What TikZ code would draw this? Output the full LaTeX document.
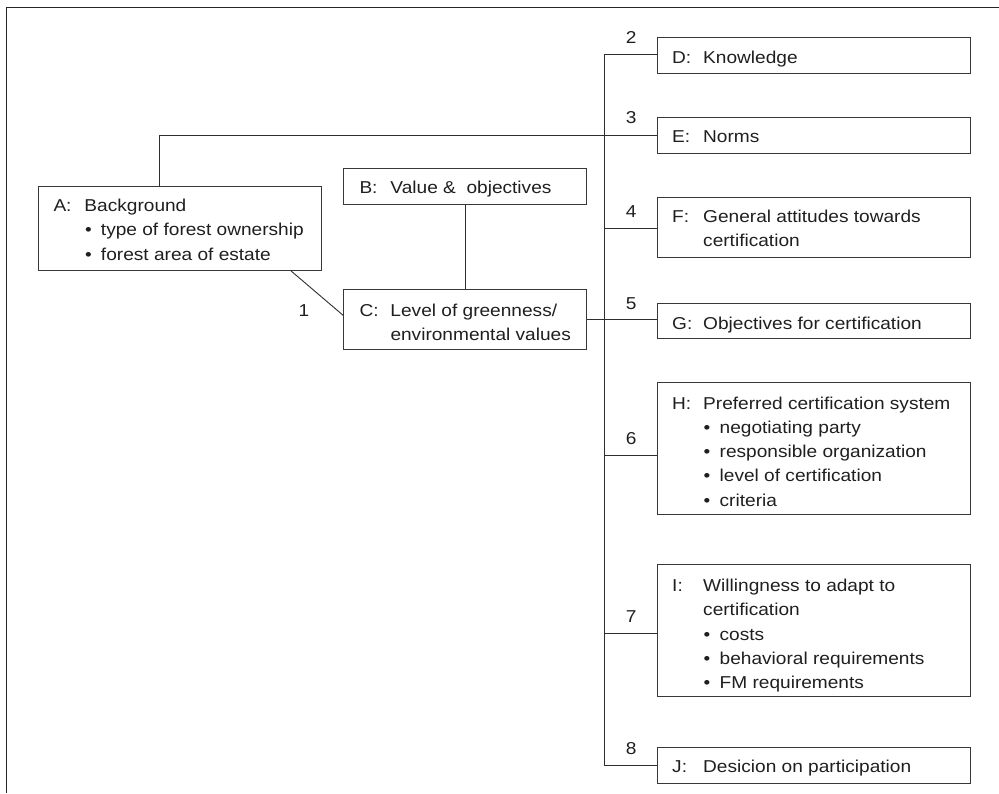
\documentclass[tikz,border=0pt]{standalone}
\usepackage{fontspec}
\setmainfont{Liberation Sans}[FakeStretch=1.11]

% one labelled line: key letter, then its text
\newcommand\keyline[2]{\makebox[31pt][l]{#1}#2}
% bulleted sub-item under the text column
\newcommand\bulline[1]{\hspace*{31pt}\makebox[16.5pt][l]{\hspace{0.5pt}\textbullet}#1}
% wrapped continuation of the text column
\newcommand\contline[1]{\hspace*{31pt}#1}

\begin{document}
\begin{tikzpicture}[x=1pt,y=-1pt,
  box/.style={draw=black!78, line width=0.9pt, inner sep=0pt, anchor=north west},
  txt/.style={anchor=base west, inner sep=0pt, text=black!88,
              font=\fontsize{17.2}{24.2}\selectfont},
  num/.style={anchor=base, inner sep=0pt, text=black!88,
              font=\fontsize{17.2}{24.2}\selectfont},
  link/.style={draw=black!82, line width=0.9pt},
  frame/.style={draw=black!85, line width=1.2pt}]

\useasboundingbox (0,0) rectangle (999,793);

% open outer frame
\draw[frame] (6.5,793) -- (6.5,7.3) -- (999,7.3);

% boxes
\node[box, minimum width=282.4pt, minimum height=84pt]   (A) at (38.3,186)   {};
\node[box, minimum width=242.4pt, minimum height=36.3pt] (B) at (343.3,167.7) {};
\node[box, minimum width=242.4pt, minimum height=60pt]   (C) at (343.3,289)   {};
\node[box, minimum width=312.7pt, minimum height=35.7pt] (D) at (657.3,37.3)  {};
\node[box, minimum width=312.7pt, minimum height=36pt]   (E) at (657.3,117)   {};
\node[box, minimum width=312.7pt, minimum height=60.3pt] (F) at (657.3,196.7) {};
\node[box, minimum width=312.7pt, minimum height=35.6pt] (G) at (657.3,302.7) {};
\node[box, minimum width=312.7pt, minimum height=131.7pt](H) at (657.3,382.3) {};
\node[box, minimum width=312.7pt, minimum height=132pt]  (I) at (657.3,564.3) {};
\node[box, minimum width=312.7pt, minimum height=36pt]   (J) at (657.3,746.7) {};

% box texts
\node[txt] (At) at (53.3,211.7) {\begin{tabular}[t]{@{}l@{}}
  \keyline{A:}{Background}\\
  \bulline{type of forest ownership}\\
  \bulline{forest area of estate}\end{tabular}};
\node[txt] (Bt) at (359.3,193.3) {\keyline{B:}{Value \&\ \ objectives}};
\node[txt] (Ct) at (359.3,316.7) {\begin{tabular}[t]{@{}l@{}}
  \keyline{C:}{Level of greenness/}\\
  \contline{environmental values}\end{tabular}};
\node[txt] (Dt) at (672,63.3)  {\keyline{D:}{Knowledge}};
\node[txt] (Et) at (672,142.7) {\keyline{E:}{Norms}};
\node[txt] (Ft) at (672,222.7) {\begin{tabular}[t]{@{}l@{}}
  \keyline{F:}{General attitudes towards}\\
  \contline{certification}\end{tabular}};
\node[txt] (Gt) at (672,329.3) {\keyline{G:}{Objectives for certification}};
\node[txt] (Ht) at (672,409.3) {\begin{tabular}[t]{@{}l@{}}
  \keyline{H:}{Preferred certification system}\\
  \bulline{negotiating party}\\
  \bulline{responsible organization}\\
  \bulline{level of certification}\\
  \bulline{criteria}\end{tabular}};
\node[txt] (It) at (672,591.7) {\begin{tabular}[t]{@{}l@{}}
  \keyline{I:}{Willingness to adapt to}\\
  \contline{certification}\\
  \bulline{costs}\\
  \bulline{behavioral requirements}\\
  \bulline{FM requirements}\end{tabular}};
\node[txt] (Jt) at (672,772.7) {\keyline{J:}{Desicion on participation}};

% connectors on the left
\draw[link] ([xshift=252.7pt]A.south west) -- ([yshift=4pt]C.west);
\draw[link] ([xshift=121.4pt]A.north west) |- (E.west);
\draw[link] (B.south) -- (C.north);
\draw[link] (C.east) -- (C.east -| G.west);

% trunk and its branches
\coordinate (tD) at (604.7,54);
\coordinate (tF) at (604.7,228);
\coordinate (tH) at (604.7,455.3);
\coordinate (tI) at (604.7,633.7);
\coordinate (tJ) at (604.7,765.3);
\draw[link] (tD -| D.west) -- (tD) -- (tJ) -- (tJ -| J.west);
\draw[link] (tF) -- (tF -| F.west);
\draw[link] (tH) -- (tH -| H.west);
\draw[link] (tI) -- (tI -| I.west);

% path numbers
\node[num] (n1) at (304,316)   {1};
\node[num] (n2) at (631.3,43.3) {2};
\node[num] (n3) at (631.3,123.7) {3};
\node[num] (n4) at (631.3,217) {4};
\node[num] (n5) at (631.3,309) {5};
\node[num] (n6) at (631.3,444.3) {6};
\node[num] (n7) at (631.3,622.7) {7};
\node[num] (n8) at (631.3,754.3) {8};
\end{tikzpicture}
\end{document}
